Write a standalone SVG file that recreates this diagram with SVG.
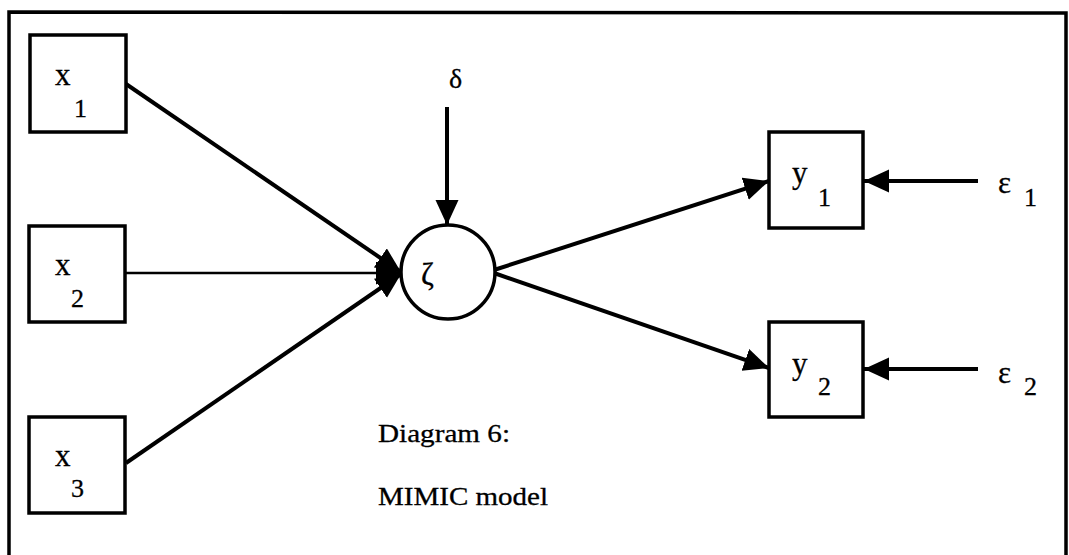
<svg xmlns="http://www.w3.org/2000/svg" width="1069" height="555" viewBox="0 0 1069 555">
  <style>
    .box { fill: #fff; stroke: #000; stroke-width: 3.5; }
    .lat { fill: #fff; stroke: #000; stroke-width: 3.5; }
    .edge { fill: none; stroke: #000; stroke-width: 4; marker-end: url(#head); }
    .thin { stroke-width: 2.5; }
    text { stroke: #000; stroke-width: 0.3; }
  </style>
  <defs>
    <marker id="head" markerUnits="userSpaceOnUse" markerWidth="27" markerHeight="24" refX="25" refY="11.5" orient="auto">
      <path d="M0,0 L25,11.5 L0,23 Z" fill="#000"/>
    </marker>
  </defs>
  <rect width="1069" height="555" fill="#fff"/>

  <!-- outer frame (open at the bottom) -->
  <path d="M9,555 L9,12 L1066,13 L1066,555" fill="none" stroke="#000" stroke-width="3.5"/>

  <!-- connectors -->
  <g id="connectors">
    <line class="edge" x1="126" y1="84" x2="401" y2="272"/>
    <line class="edge thin" x1="125" y1="273" x2="401" y2="273"/>
    <line class="edge" x1="126" y1="463" x2="401" y2="274"/>
    <line class="edge" x1="447" y1="107" x2="447" y2="225"/>
    <line class="edge" x1="494" y1="270" x2="769" y2="181"/>
    <line class="edge" x1="494" y1="273" x2="769" y2="368"/>
    <line class="edge" x1="978" y1="181" x2="864" y2="181"/>
    <line class="edge" x1="978" y1="369" x2="864" y2="369"/>
  </g>

  <g font-family="'Liberation Serif', 'Times New Roman', serif" fill="#000">
    <g id="x1">
      <rect class="box" x="30" y="35" width="96" height="97"/>
      <text x="55" y="85" font-size="31">x</text>
      <text x="74" y="117" font-size="26">1</text>
    </g>
    <g id="x2">
      <rect class="box" x="29" y="226" width="96" height="96"/>
      <text x="55" y="275" font-size="31">x</text>
      <text x="71" y="307" font-size="26">2</text>
    </g>
    <g id="x3">
      <rect class="box" x="29" y="417" width="96" height="96"/>
      <text x="55" y="466" font-size="31">x</text>
      <text x="71" y="497" font-size="26">3</text>
    </g>

    <g id="delta">
      <text x="449" y="88" font-size="28">δ</text>
    </g>

    <g id="zeta">
      <circle class="lat" cx="448" cy="272" r="47"/>
      <text x="421" y="285" font-size="31">ζ</text>
    </g>

    <g id="y1">
      <rect class="box" x="769" y="132" width="94" height="96"/>
      <text x="792" y="183" font-size="31">y</text>
      <text x="818" y="206" font-size="26">1</text>
    </g>
    <g id="y2">
      <rect class="box" x="769" y="322" width="94" height="95"/>
      <text x="792" y="374" font-size="31">y</text>
      <text x="818" y="395" font-size="26">2</text>
    </g>

    <g id="eps1">
      <text x="998" y="193" font-size="31">ε</text>
      <text x="1024" y="206" font-size="26">1</text>
    </g>
    <g id="eps2">
      <text x="998" y="383" font-size="31">ε</text>
      <text x="1024" y="395" font-size="26">2</text>
    </g>

    <g id="caption">
      <text x="378" y="442" font-size="25" textLength="132" lengthAdjust="spacingAndGlyphs">Diagram 6:</text>
      <text x="378" y="505" font-size="25" textLength="170" lengthAdjust="spacingAndGlyphs">MIMIC model</text>
    </g>
  </g>
</svg>
